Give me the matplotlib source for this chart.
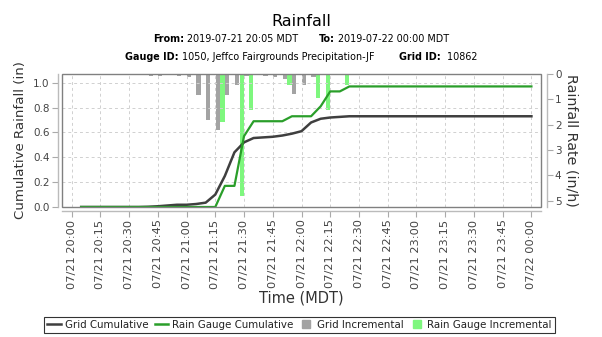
import matplotlib
matplotlib.use("Agg")
import matplotlib.pyplot as plt
import matplotlib.dates as mdates
from matplotlib.lines import Line2D
from matplotlib.patches import Rectangle
import pandas as pd
import numpy as np

plt.rcParams['font.family'] = ['DejaVu Sans']

# ---------------- data ----------------
times = pd.date_range("2019-07-21 20:05", "2019-07-22 00:00", freq="5min")

grid_cumulative = [0, 0, 0, 0, 0, 0, 0, 0.002, 0.006, 0.012, 0.018, 0.018, 0.024, 0.035,
                   0.10, 0.25, 0.44, 0.52, 0.555, 0.56, 0.565, 0.575, 0.59, 0.61, 0.68,
                   0.71, 0.72, 0.725, 0.73,
                   0.73, 0.73, 0.73, 0.73, 0.73, 0.73, 0.73, 0.73, 0.73, 0.73,
                   0.73, 0.73, 0.73, 0.73, 0.73, 0.73, 0.73, 0.73, 0.73]

gauge_cumulative = [0, 0, 0, 0, 0, 0, 0, 0, 0, 0, 0, 0, 0, 0, 0,
                    0.17, 0.17, 0.57, 0.69, 0.69, 0.69, 0.69, 0.73, 0.73, 0.73,
                    0.81, 0.93, 0.93, 0.97,
                    0.97, 0.97, 0.97, 0.97, 0.97, 0.97, 0.97, 0.97, 0.97, 0.97,
                    0.97, 0.97, 0.97, 0.97, 0.97, 0.97, 0.97, 0.97, 0.97]

# rates (in/h) for the 5-min interval ending at each time
grid_incremental = [0, 0, 0, 0, 0, 0, 0, 0.05, 0.07, 0.07, 0, 0.07, 0.13, 0.83,
                    1.82, 2.2, 0.82, 0.42, 0.08, 0.02, 0.09, 0.11, 0.2, 0.78, 0.42,
                    0.12, 0.05, 0.03, 0,
                    0, 0, 0, 0, 0, 0, 0, 0, 0, 0,
                    0, 0, 0, 0, 0, 0, 0, 0, 0]

gauge_incremental = [0, 0, 0, 0, 0, 0, 0, 0, 0, 0, 0, 0, 0, 0, 0,
                     1.9, 0, 4.8, 1.42, 0, 0, 0, 0.45, 0, 0,
                     0.95, 1.42, 0, 0.45,
                     0, 0, 0, 0, 0, 0, 0, 0, 0, 0,
                     0, 0, 0, 0, 0, 0, 0, 0, 0]

xtick_labels = ["07/21 20:00", "07/21 20:15", "07/21 20:30", "07/21 20:45",
                "07/21 21:00", "07/21 21:15", "07/21 21:30", "07/21 21:45",
                "07/21 22:00", "07/21 22:15", "07/21 22:30", "07/21 22:45",
                "07/21 23:00", "07/21 23:15", "07/21 23:30", "07/21 23:45",
                "07/22 00:00"]
xtick_times = pd.date_range("2019-07-21 20:00", "2019-07-22 00:00", freq="15min")

# ---------------- styles ----------------
W, H = 602, 337
DARK = '#3f3f3f'
GREEN = '#2a9e2a'
GRAYBAR = '#a3a3a3'
LGREEN = '#7ef77e'
TXT = '#444444'

fig = plt.figure(figsize=(W / 100, H / 100), dpi=100)
ax = fig.add_axes([62 / W, 1 - 207 / H, (541 - 62) / W, (207 - 74) / H])
ax2 = ax.twinx()

day = 1.0 / (24 * 60)
tnum = mdates.date2num(times)
bw = 2.2 * day
ax2.bar(tnum - 3.75 * day, grid_incremental, width=bw, color=GRAYBAR, linewidth=0)
ax2.bar(tnum - 1.25 * day, gauge_incremental, width=bw, color=LGREEN, linewidth=0)
ax2.set_ylim(5.25, 0)
ax2.set_yticks([0, 1, 2, 3, 4, 5])

ax.plot(tnum, grid_cumulative, color=DARK, lw=1.8, solid_joinstyle='round')
ax.plot(tnum, gauge_cumulative, color=GREEN, lw=1.6, solid_joinstyle='round')
ax.set_ylim(0, 1.07)
ax.set_yticks([0, 0.2, 0.4, 0.6, 0.8, 1.0])
ax.set_yticklabels(["0.0", "0.2", "0.4", "0.6", "0.8", "1.0"])
ax.set_zorder(ax2.get_zorder() + 1)
ax.patch.set_visible(False)

xl0 = mdates.date2num(pd.Timestamp("2019-07-21 19:55"))
xl1 = mdates.date2num(pd.Timestamp("2019-07-22 00:05"))
ax.set_xlim(xl0, xl1)
ax.set_xticks(mdates.date2num(xtick_times))
ax.set_xticklabels(xtick_labels)

ax.grid(True, color='#d0d0d0', linestyle=(0, (3, 3)), lw=0.7)

for s in ['top', 'right']:
    ax.spines[s].set_visible(False)
for s in ['top', 'left', 'bottom']:
    ax2.spines[s].set_visible(False)
ax.spines['left'].set_position(('outward', 3))
ax.spines['bottom'].set_position(('outward', 3))
ax2.spines['right'].set_position(('outward', 4))
for sp in [ax.spines['left'], ax.spines['bottom'], ax2.spines['right']]:
    sp.set_color('#bbbbbb')
    sp.set_linewidth(1.0)
ax.add_patch(Rectangle((0, 0), 1, 1, transform=ax.transAxes, fill=False,
                       edgecolor='#808080', lw=1.0, clip_on=False, zorder=5))

for a in (ax, ax2):
    a.tick_params(axis='both', which='both', length=4, width=0.8, color='#aaaaaa',
                  labelcolor=TXT, labelsize=7.5, pad=2)
ax.tick_params(axis='x', labelrotation=90, labelsize=8.2)

ax.set_ylabel("Cumulative Rainfall (in)", fontsize=9.6, color='#333333', labelpad=4)
ax2.set_ylabel("Rainfall Rate (in/h)", fontsize=10.3, color='#333333', rotation=270,
               labelpad=12)
ax.set_xlabel("Time (MDT)", fontsize=10.5, color='#333333', labelpad=1)

fig.text(301 / W, 1 - 21 / H, "Rainfall", ha='center', va='center', fontsize=11.5,
         color='black')


def mixed_line(y_px, groups, fontsize, gap_px):
    renderer = fig.canvas.get_renderer()
    items = []
    total = 0.0
    for gi, group in enumerate(groups):
        for txt, weight in group:
            t = fig.text(0, 1 - y_px / H, txt, fontsize=fontsize, fontweight=weight,
                         ha='left', va='center', color='black')
            w = t.get_window_extent(renderer=renderer).width
            items.append((t, total))
            total += w
        if gi < len(groups) - 1:
            total += gap_px
    x0 = (W - total) / 2.0
    for t, off in items:
        t.set_x((x0 + off) / W)


mixed_line(39, [[("From:", 'bold'), (" 2019-07-21 20:05 MDT", 'normal')],
                [("To:", 'bold'), (" 2019-07-22 00:00 MDT", 'normal')]], 6.9, 20)
mixed_line(57, [[("Gauge ID:", 'bold'), (" 1050, Jeffco Fairgrounds Precipitation-JF", 'normal')],
                [("Grid ID:", 'bold'), ("  10862", 'normal')]], 6.9, 25)

handles = [Line2D([], [], color=DARK, lw=1.8),
           Line2D([], [], color=GREEN, lw=1.8),
           Line2D([], [], color=GRAYBAR, marker='s', ls='none', markersize=6),
           Line2D([], [], color=LGREEN, marker='s', ls='none', markersize=6)]
labels = ["Grid Cumulative", "Rain Gauge Cumulative", "Grid Incremental",
          "Rain Gauge Incremental"]
leg = fig.legend(handles, labels, loc='center', bbox_to_anchor=(299.5 / W, 1 - 325 / H),
                 ncol=4, fontsize=7.4, frameon=True, fancybox=False, edgecolor='black',
                 handlelength=1.3, handletextpad=0.4, columnspacing=0.6,
                 borderpad=0.3, borderaxespad=0)
leg.get_frame().set_linewidth(0.8)
for t in leg.get_texts():
    t.set_color('#222222')

fig.savefig("out.png", dpi=100)
